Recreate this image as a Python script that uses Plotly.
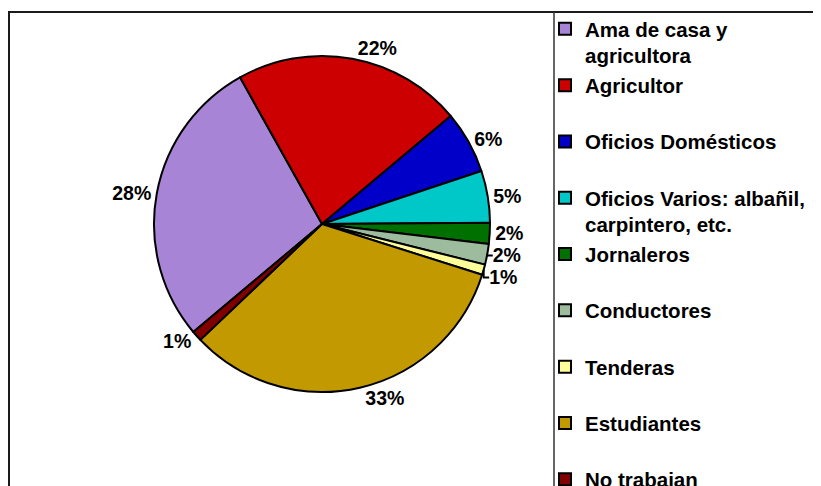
import plotly.graph_objects as go

# ---- data ----
categories = [
    "Ama de casa y<br>agricultora",
    "Agricultor",
    "Oficios Domésticos",
    "Oficios Varios: albañil,<br>carpintero, etc.",
    "Jornaleros",
    "Conductores",
    "Tenderas",
    "Estudiantes",
    "No trabajan",
]
percentages = [28, 22, 6, 5, 2, 2, 1, 33, 1]
slice_colors = [
    "#A884D6",  # lavender
    "#CC0000",  # red
    "#0000C8",  # blue
    "#00C8C8",  # cyan
    "#007000",  # green
    "#9DBB9D",  # grey-green
    "#FFFF99",  # light yellow
    "#C29A00",  # gold / olive
    "#800000",  # dark red
]

# the page body has an 8px margin, so the figure is 8px smaller than the window
OFF = 8
W, H = 821 - OFF, 486 - OFF
FONT = "Arial, 'Liberation Sans', sans-serif"

# every legend entry takes two text lines, as in the reference
legend_labels = [c if "<br>" in c else c + "<br>\u00a0" for c in categories]


def px(x):
    return (x - OFF) / W


def py(y):
    return 1 - (y - OFF) / H


cx, cy, r = 322, 224, 168

fig = go.Figure(
    go.Pie(
        labels=legend_labels,
        values=percentages,
        sort=False,
        direction="clockwise",
        rotation=230,
        marker=dict(colors=slice_colors, line=dict(color="black", width=2)),
        textposition="outside",
        texttemplate="%{percent:.0%}",
        textfont=dict(family=FONT, size=19.5, color="black", weight="bold"),
        domain=dict(x=[px(cx - r), px(cx + r)], y=[py(cy + r), py(cy - r)]),
        showlegend=True,
    )
)

frame = dict(color="#1a1a1a", width=2)
fig.update_layout(
    width=W,
    height=H,
    margin=dict(l=0, r=0, t=0, b=0, autoexpand=False),
    paper_bgcolor="white",
    plot_bgcolor="white",
    legend=dict(
        x=px(545), y=py(9), xanchor="left", yanchor="top",
        font=dict(family=FONT, size=20.5, color="black", weight="bold"),
        bgcolor="rgba(0,0,0,0)",
        borderwidth=0,
        valign="top",
        traceorder="normal",
    ),
    shapes=[
        dict(type="line", xref="paper", yref="paper", x0=px(8), x1=1.02, y0=py(12), y1=py(12), line=frame),
        dict(type="line", xref="paper", yref="paper", x0=px(9), x1=px(9), y0=py(12), y1=-0.02, line=frame),
        dict(type="line", xref="paper", yref="paper", x0=px(554), x1=px(554), y0=py(12), y1=-0.02,
             line=dict(color="#333333", width=1.5)),
    ],
)

fig.write_html("out.html", config={"staticPlot": True})
